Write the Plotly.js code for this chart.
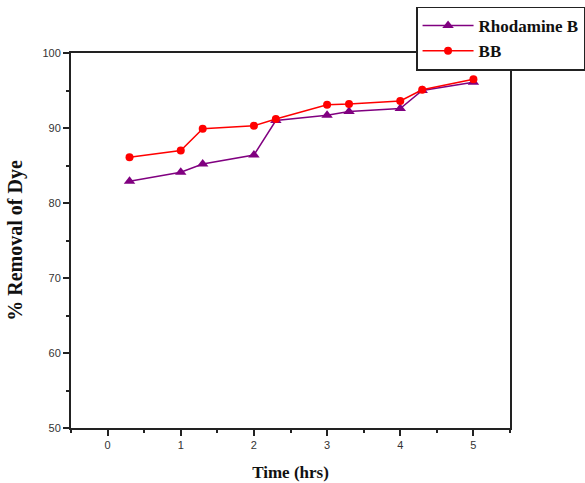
<!DOCTYPE html>
<html>
<head>
<meta charset="utf-8">
<script src="https://cdn.plot.ly/plotly-3.0.1.min.js"></script>
<style>html,body{margin:0;padding:0;background:#fff;}#chart{width:585px;height:483px;}</style>
</head>
<body>
<div id="chart"></div>
<script>
const timeHrs = [0.3, 1, 1.3, 2, 2.3, 3, 3.3, 4, 4.3, 5];
const rhodamineB = [82.9, 84.1, 85.2, 86.4, 91.0, 91.7, 92.2, 92.6, 95.0, 96.1];
const bb = [86.1, 87.0, 89.9, 90.3, 91.2, 93.1, 93.2, 93.6, 95.1, 96.5];
const seriesNames = ["Rhodamine B", "BB"];
const xTicks = [0, 1, 2, 3, 4, 5];
const yTicks = [50, 60, 70, 80, 90, 100];

const traces = [
  {x: timeHrs, y: rhodamineB, name: seriesNames[0], mode: "lines+markers",
   line: {color: "#800080", width: 1.5},
   marker: {symbol: "triangle-up", size: 10, color: "#800080"}},
  {x: timeHrs, y: bb, name: seriesNames[1], mode: "lines+markers",
   line: {color: "#ff0000", width: 1.5},
   marker: {symbol: "circle", size: 8, color: "#ff0000"}}
];

const axisCommon = {
  showline: true, linecolor: "#222", linewidth: 2, mirror: true,
  ticks: "outside", ticklen: 6, tickwidth: 2, tickcolor: "#222",
  showgrid: false, zeroline: false,
  tickfont: {family: "Liberation Sans, Arial", size: 11, color: "#333"},
  minor: {ticks: "outside", ticklen: 3, tickwidth: 2, tickcolor: "#222"}
};

const layout = {
  width: 585, height: 483,
  margin: {l: 71, r: 75, t: 53, b: 55, autoexpand: false},
  paper_bgcolor: "#fff", plot_bgcolor: "#fff",
  showlegend: true,
  legend: {x: 0.786, y: 1.124, xanchor: "left", yanchor: "top",
    bgcolor: "#fff", bordercolor: "#222", borderwidth: 1.5,
    font: {family: "Liberation Serif, Times New Roman", size: 17, color: "#111", weight: "bold"},
    tracegroupgap: 0, itemwidth: 51},
  xaxis: Object.assign({}, axisCommon, {
    range: [-0.5, 5.5], tickvals: xTicks, ticktext: xTicks.map(String),
    minor: Object.assign({}, axisCommon.minor, {dtick: 0.5, tick0: 0}),
    title: {text: "<b>Time (hrs)</b>", standoff: 16,
      font: {family: "Liberation Serif, Times New Roman", size: 17, color: "#111"}}
  }),
  yaxis: Object.assign({}, axisCommon, {
    range: [50, 100], tickvals: yTicks, ticktext: yTicks.map(String),
    minor: Object.assign({}, axisCommon.minor, {dtick: 5, tick0: 0}),
    title: {text: "<b>% Removal of Dye</b>", standoff: 14,
      font: {family: "Liberation Serif, Times New Roman", size: 20, color: "#111"}}
  })
};

Plotly.newPlot("chart", traces, layout, {displayModeBar: false, staticPlot: true});
</script>
</body>
</html>
